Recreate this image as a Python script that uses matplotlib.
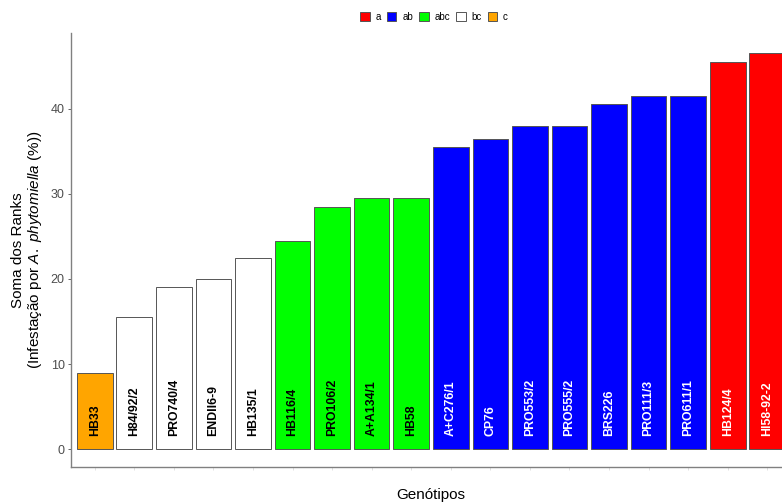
import matplotlib.pyplot as plt
from matplotlib.patches import Patch

plt.rcParams['font.family'] = ['Liberation Sans', 'DejaVu Sans']
plt.rcParams['mathtext.fontset'] = 'custom'
plt.rcParams['mathtext.rm'] = 'Liberation Sans'
plt.rcParams['mathtext.it'] = 'Liberation Sans:italic'

genotipos = ['HB33', 'H84/92/2', 'PRO740/4', 'ENDII6-9', 'HB135/1', 'HB116/4',
             'PRO106/2', 'A+A134/1', 'HB58', 'A+C276/1', 'CP76', 'PRO553/2',
             'PRO555/2', 'BRS226', 'PRO111/3', 'PRO611/1', 'HB124/4', 'HI58-92-2']
soma_ranks = [9.0, 15.5, 19.0, 20.0, 22.5, 24.5, 28.5, 29.5, 29.5, 35.5, 36.5,
              38.0, 38.0, 40.5, 41.5, 41.5, 45.5, 46.5]
grupos = ['c', 'bc', 'bc', 'bc', 'bc', 'abc', 'abc', 'abc', 'abc', 'ab', 'ab',
          'ab', 'ab', 'ab', 'ab', 'ab', 'a', 'a']

legenda = ['a', 'ab', 'abc', 'bc', 'c']
cores = {'a': '#FF0000', 'ab': '#0000FF', 'abc': '#00FF00', 'bc': '#FFFFFF', 'c': '#FFA500'}
cor_texto = {'a': 'white', 'ab': 'white', 'abc': 'black', 'bc': 'black', 'c': 'black'}

fig = plt.figure(figsize=(7.82, 5.03), dpi=100)
ax = fig.add_axes([71 / 782, 36 / 503, 720 / 782, 434 / 503])

x = list(range(1, len(genotipos) + 1))
ax.bar(x, soma_ranks, width=0.9, color=[cores[g] for g in grupos],
       edgecolor='#555555', linewidth=0.7)

for xi, nome, g in zip(x, genotipos, grupos):
    ax.text(xi, 1.6, nome, rotation=90, ha='center', va='bottom',
            fontsize=8.8, fontweight='bold', color=cor_texto[g])

ax.set_xlim(0.4, len(genotipos) + 0.6)
ax.set_ylim(-2.1, 48.9)
ax.set_yticks([0, 10, 20, 30, 40])
ax.set_xticks(x)
ax.set_xticklabels([])
ax.tick_params(axis='y', labelsize=9, labelcolor='#4D4D4D', color='#4D4D4D',
               length=2.5, width=0.6, pad=2)
ax.tick_params(axis='x', color='#DDDDDD', length=2.5, width=0.6)
for s in ['top', 'right']:
    ax.spines[s].set_visible(False)
for s in ['left', 'bottom']:
    ax.spines[s].set_color('#808080')
    ax.spines[s].set_linewidth(1.0)

ax.set_ylabel('Soma dos Ranks\n(Infestação por $\\it{A.\\ phytomiella}$ (%))',
              fontsize=11, labelpad=5, linespacing=1.1)
fig.text(431 / 782, 1 - 495 / 503, 'Genótipos', ha='center', va='center', fontsize=11)

handles = [Patch(facecolor=cores[k], edgecolor='#555555', linewidth=0.7) for k in legenda]
fig.legend(handles, legenda, loc='center', bbox_to_anchor=(434 / 782, 1 - 17 / 503),
           ncol=5, frameon=False, fontsize=7, handlelength=1.0, handleheight=1.0,
           handletextpad=0.6, columnspacing=0.6, borderpad=0)

fig.savefig('out.png', dpi=100)
